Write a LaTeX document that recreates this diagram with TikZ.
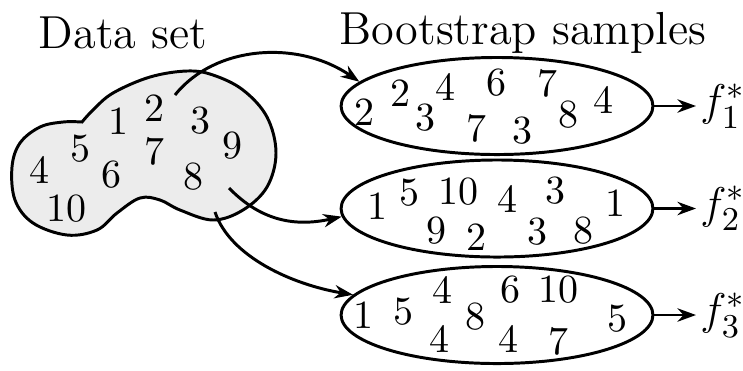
\documentclass[tikz,border=0pt]{standalone}
\usepackage{amsmath}
\usepackage{tikz}
\usetikzlibrary{
	arrows.meta,
	shapes.geometric
}

\begin{document}
\begin{tikzpicture}[x=0.27pt, y=-0.27pt,
		sample/.style={draw, thick, ellipse, minimum width=84.2pt, minimum height=26.2pt, inner sep=0pt},
		link/.style={thick, -{Stealth[length=5pt, width=3.6pt]}},
		num/.style={inner sep=0pt, font=\fontsize{10.8}{13}\selectfont},
		head/.style={font=\fontsize{12.5}{15}\selectfont},
		est/.style={anchor=west, inner sep=1pt, font=\fontsize{13}{15}\selectfont}]
		\useasboundingbox (0,0) rectangle (743,370);
		% 数据集
		\draw[thick, fill=gray!15] plot[smooth, tension=0.6] coordinates {
			(82,122) (93,110) (113,93) (150,77) (187,71) (213,75) (243,90) (267,117)
			(276,153) (267,187) (243,210) (213,220) (180,210) (160,200) (140,198)
			(117,213) (97,230) (67,235) (33,223) (15,200) (12,167) (20,143) (40,127)
			(63,122) (82,122)} -- cycle;
		\node[head] (title1) at (123,33) {Data set};
		\foreach \x/\y/\t [count=\i] in {154/108/2, 118/121/1, 200/121/3, 80/149/5, 154/151/7,
			232/146/9, 39/170/4, 111/175/6, 193/177/8, 66/209/10}
			\node[num] (d\i) at (\x,\y) {\t};
		% 自助样本
		\node[head] (title2) at (523,33) {Bootstrap samples};
		\node[sample] (s1) at (497,106) {};
		\node[sample] (s2) at (497,208.5) {};
		\node[sample] (s3) at (497,315) {};
		\foreach \x/\y/\t [count=\i] in {364/112/2, 400/93/2, 425/118/3, 445/87/4, 496/83/6,
			476/128/7, 547/83/7, 522/131/3, 568/115/8, 603/100/4}
			\node[num] (sa\i) at (\x,\y) {\t};
		\foreach \x/\y/\t [count=\i] in {377/206/1, 409/193/5, 458/192/10, 507/199/4, 555/191/3,
			615/203/1, 436/231/9, 476/237/2, 537/232/3, 583/231/8}
			\node[num] (sb\i) at (\x,\y) {\t};
		\foreach \x/\y/\t [count=\i] in {363/315/1, 403/312/5, 442/290/4, 475/317/8, 439/339/4,
			510/290/6, 558/290/10, 508/339/4, 558/341/7, 617/319/5}
			\node[num] (sc\i) at (\x,\y) {\t};
		% 估计量
		\node[est] (f1) at (696,106) {$f_1^*$};
		\node[est] (f2) at (696,208.5) {$f_2^*$};
		\node[est] (f3) at (696,315) {$f_3^*$};
		\draw[link] (s1.east) -- (f1.west);
		\draw[link] (s2.east) -- (f2.west);
		\draw[link] (s3.east) -- (f3.west);
		% 抽样箭头
		\coordinate (a1) at (175,95);
		\coordinate (a2) at (229,188);
		\coordinate (a3) at (215,212);
		\draw[link] (a1) .. controls +(40,-50) and +(-61,-42) .. (s1.170);
		\draw[link] (a2) .. controls +(33,34) and +(-45,10) .. (s2.183);
		\draw[link] (a3) .. controls +(15,45) and +(-60,-10) .. (s3.172);
	\end{tikzpicture}
\end{document}
